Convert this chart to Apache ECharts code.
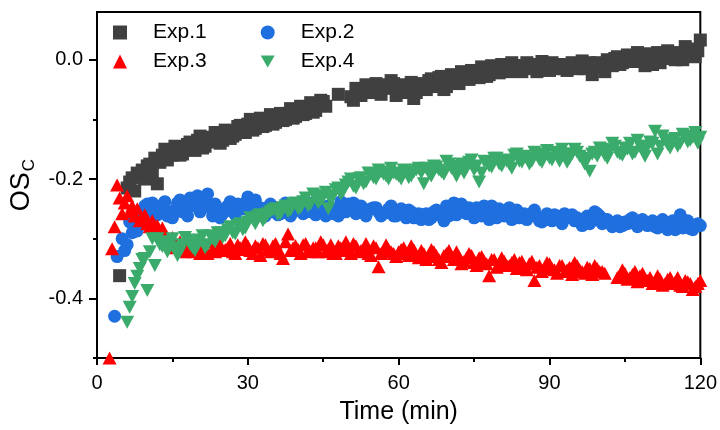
<!DOCTYPE html>
<html>
<head>
<meta charset="utf-8">
<script src="https://cdn.jsdelivr.net/npm/echarts@6/dist/echarts.min.js"></script>
<style>html,body{margin:0;padding:0;background:#fff}#c{width:720px;height:430px}</style>
</head>
<body>
<div id="c"></div>
<script>
const time = [2.5,3,3.5,4,4.5,5,5.5,6,6.5,7,7.5,8,8.5,9,9.5,10,10.5,11,11.5,12,12.5,13,13.5,14,14.5,15,
16,17,18,19,20,21,22,23,24,25,26,27,28,29,30,31,32,33,34,35,36,37,38,39,40,41,42,43,44,45,
46,47,48,49,50,51,52,53,54,55,56,57,58,59,60,61,62,63,64,65,66,67,68,69,70,71,72,73,74,75,
76,77,78,79,80,81,82,83,84,85,86,87,88,89,90,91,92,93,94,95,96,97,98,99,100,101,102,103,104,105,
106,107,108,109,110,111,112,113,114,115,116,117,118,119,120];

const time2 = [15.5,16.5,17.5,18.5,19.5,20.5,21.5,22.5,23.5,24.5,25.5,26.5,27.5,28.5,29.5,30.5,31.5,32.5,33.5,34.5,
35.5,36.5,37.5,38.5,39.5,40.5,41.5,42.5,43.5,44.5,45.5,46.5,47.5,48.5,49.5,50.5,51.5,52.5,53.5,54.5,
55.5,56.5,57.5,58.5,59.5,60.5,61.5,62.5,63.5,64.5,65.5,66.5,67.5,68.5,69.5,70.5,71.5,72.5,73.5,74.5,
75.5,76.5,77.5,78.5,79.5,80.5,81.5,82.5,83.5,84.5,85.5,86.5,87.5,88.5,89.5,90.5,91.5,92.5,93.5,94.5,
95.5,96.5,97.5,98.5,99.5,100.5,101.5,102.5,103.5,104.5,105.5,106.5,107.5,108.5,109.5,110.5,111.5,112.5,113.5,114.5,
115.5,116.5,117.5,118.5,119.5];

const exp1 = [null,null,null,null,-0.362,null,null,-0.215,-0.205,-0.198,-0.22,-0.19,-0.195,-0.185,-0.2,-0.178,-0.175,-0.19,-0.165,-0.208,-0.172,-0.16,-0.15,-0.168,-0.155,-0.16,
-0.15,-0.158,-0.142,-0.15,-0.135,-0.148,-0.13,-0.138,-0.125,-0.135,
-0.12,-0.128,-0.112,-0.12,-0.108,-0.118,-0.105,-0.112,-0.1,-0.108,
-0.095,-0.102,-0.09,-0.098,-0.085,-0.092,-0.08,-0.088,-0.075,-0.07,
null,null,-0.058,null,null,-0.068,-0.058,-0.05,-0.055,-0.045,
-0.052,-0.042,-0.048,-0.04,-0.05,-0.055,-0.045,-0.065,-0.04,-0.048,
-0.035,-0.045,-0.03,-0.05,-0.035,-0.028,-0.04,-0.022,-0.033,-0.02,
-0.03,-0.018,-0.025,-0.015,-0.022,-0.012,-0.02,-0.01,-0.018,-0.01,
-0.015,-0.008,-0.015,-0.01,-0.018,-0.012,-0.01,-0.015,-0.008,-0.012,
-0.01,-0.015,-0.005,-0.01,-0.008,-0.02,-0.005,0.002,-0.008,0.0,
0.005,-0.002,0.008,-0.01,0.005,0.0,-0.005,0.008,0.002,0.0,
0.01,0.022,0.012,0.005,0.033];

const exp1b = [-0.145,-0.16,-0.148,-0.138,-0.152,-0.128,-0.145,-0.135,-0.122,-0.14,
-0.118,-0.132,-0.125,-0.11,-0.122,-0.1,-0.115,-0.098,-0.11,-0.092,
-0.105,-0.09,-0.1,-0.082,-0.095,-0.078,-0.09,-0.072,-0.085,-0.068,
-0.078,null,null,null,null,-0.062,-0.048,-0.06,-0.042,-0.055,
-0.04,-0.058,-0.045,-0.035,-0.06,-0.042,-0.05,-0.038,-0.055,-0.042,
-0.05,-0.032,-0.042,-0.028,-0.045,-0.025,-0.035,-0.02,-0.032,-0.018,
-0.025,-0.012,-0.028,-0.01,-0.02,-0.008,-0.018,-0.005,-0.015,-0.02,
-0.005,-0.012,-0.02,-0.003,-0.012,-0.005,-0.015,-0.008,-0.018,-0.005,
-0.015,-0.002,-0.012,-0.025,-0.005,-0.012,0.0,-0.01,0.005,-0.005,
0.008,-0.003,0.012,0.0,0.01,-0.008,0.012,0.002,0.015,0.005,
0.012,0.0,0.018,0.008,0.015];

const exp2 = [null,null,-0.43,-0.33,null,-0.30,-0.32,-0.31,-0.272,-0.29,-0.265,-0.287,-0.255,-0.27,-0.245,-0.242,-0.255,-0.24,-0.25,-0.26,-0.245,-0.252,-0.238,-0.262,-0.255,-0.265,
-0.24,-0.255,-0.262,-0.245,-0.228,-0.24,-0.225,-0.262,-0.25,-0.258,
-0.245,-0.255,-0.242,-0.25,-0.23,-0.245,-0.252,-0.258,-0.248,-0.255,
-0.26,-0.25,-0.245,-0.255,-0.25,-0.258,-0.245,-0.24,-0.248,-0.255,
-0.245,-0.258,-0.262,-0.255,-0.242,-0.24,-0.245,-0.25,-0.252,-0.248,
-0.255,-0.258,-0.25,-0.262,-0.255,-0.26,-0.252,-0.265,-0.258,-0.26,
-0.268,-0.255,-0.26,-0.27,-0.262,-0.24,-0.245,-0.255,-0.248,-0.265,
-0.26,-0.245,-0.268,-0.255,-0.25,-0.262,-0.248,-0.255,-0.265,-0.258,
-0.262,-0.252,-0.27,-0.265,-0.268,-0.26,-0.265,-0.258,-0.262,-0.27,
-0.272,-0.268,-0.275,-0.255,-0.262,-0.268,-0.272,-0.275,-0.28,-0.272,
-0.268,-0.275,-0.27,-0.272,-0.275,-0.28,-0.272,-0.278,-0.275,-0.285,
-0.26,-0.278,-0.283,-0.28,-0.278];

const exp2b = [-0.252,-0.235,-0.248,-0.232,-0.238,-0.255,-0.235,-0.248,-0.242,-0.265,
-0.25,-0.238,-0.26,-0.245,-0.24,-0.255,-0.235,-0.248,-0.262,-0.242,
-0.248,-0.258,-0.24,-0.262,-0.245,-0.252,-0.238,-0.255,-0.26,-0.25,
-0.262,-0.248,-0.252,-0.238,-0.255,-0.248,-0.258,-0.245,-0.262,-0.25,
-0.248,-0.262,-0.255,-0.245,-0.262,-0.25,-0.265,-0.255,-0.262,-0.268,
-0.258,-0.265,-0.252,-0.262,-0.245,-0.25,-0.26,-0.242,-0.258,-0.252,
-0.248,-0.262,-0.258,-0.245,-0.265,-0.255,-0.26,-0.268,-0.252,-0.262,
-0.268,-0.258,-0.262,-0.272,-0.258,-0.27,-0.262,-0.275,-0.265,-0.26,
-0.265,-0.278,-0.262,-0.27,-0.258,-0.275,-0.268,-0.28,-0.27,-0.278,
-0.275,-0.265,-0.28,-0.268,-0.278,-0.27,-0.282,-0.268,-0.285,-0.27,
-0.275,-0.282,-0.27,-0.285,-0.275];

const exp3 = [-0.5,-0.317,-0.28,-0.21,-0.232,-0.258,-0.24,-0.228,-0.255,-0.245,-0.262,-0.25,-0.27,-0.267,-0.26,-0.275,-0.28,-0.27,-0.285,-0.278,-0.29,-0.282,-0.295,-0.3,-0.305,-0.298,
-0.31,-0.318,-0.305,-0.322,-0.315,-0.31,-0.325,-0.318,-0.312,-0.32,
-0.315,-0.322,-0.31,-0.318,-0.312,-0.325,-0.315,-0.308,-0.318,-0.312,
-0.32,-0.333,-0.292,-0.315,-0.318,-0.31,-0.32,-0.315,-0.322,-0.31,
-0.318,-0.325,-0.312,-0.32,-0.315,-0.308,-0.322,-0.318,-0.325,-0.312,
-0.347,-0.32,-0.318,-0.325,-0.322,-0.315,-0.328,-0.318,-0.332,-0.325,
-0.33,-0.322,-0.335,-0.328,-0.32,-0.335,-0.33,-0.338,-0.325,-0.34,
-0.332,-0.338,-0.362,-0.335,-0.342,-0.338,-0.345,-0.335,-0.34,-0.348,
-0.342,-0.37,-0.345,-0.35,-0.342,-0.352,-0.345,-0.355,-0.348,-0.34,
-0.352,-0.358,-0.35,-0.345,-0.355,-0.358,null,null,-0.362,-0.358,
-0.365,-0.355,-0.362,-0.37,-0.365,-0.372,-0.368,-0.375,-0.365,-0.372,
-0.378,-0.37,-0.375,-0.38,-0.37];

const exp3b = [-0.315,-0.305,-0.322,-0.312,-0.308,-0.325,-0.315,-0.305,-0.322,-0.31,
-0.318,-0.308,-0.325,-0.315,-0.305,-0.32,-0.312,-0.328,-0.31,-0.322,
-0.308,-0.325,-0.305,-0.32,-0.312,-0.325,-0.308,-0.322,-0.315,-0.305,
-0.322,-0.31,-0.325,-0.315,-0.305,-0.325,-0.312,-0.32,-0.308,-0.328,
-0.315,-0.325,-0.31,-0.322,-0.33,-0.318,-0.325,-0.312,-0.328,-0.32,
-0.335,-0.318,-0.328,-0.34,-0.325,-0.33,-0.322,-0.342,-0.332,-0.328,
-0.345,-0.33,-0.342,-0.335,-0.348,-0.332,-0.345,-0.34,-0.35,-0.338,
-0.352,-0.338,-0.348,-0.355,-0.34,-0.35,-0.358,-0.345,-0.352,-0.36,
-0.345,-0.355,-0.348,-0.36,-0.35,-0.355,null,null,-0.365,-0.352,
-0.368,-0.36,-0.372,-0.358,-0.37,-0.375,-0.362,-0.378,-0.368,-0.375,
-0.365,-0.38,-0.372,-0.385,-0.375];

const exp4 = [null,null,null,null,null,null,null,-0.44,-0.415,-0.397,-0.375,-0.363,-0.35,-0.335,-0.333,-0.387,-0.322,-0.3,-0.345,-0.3,-0.31,-0.313,-0.305,-0.322,-0.31,-0.3,
-0.328,-0.31,-0.302,-0.315,-0.305,-0.295,-0.31,-0.3,-0.29,-0.298,
-0.285,-0.29,-0.278,-0.285,-0.272,-0.268,-0.262,-0.27,-0.258,-0.252,
-0.26,-0.248,-0.255,-0.242,-0.25,-0.238,-0.245,-0.225,-0.24,-0.23,
-0.25,-0.228,-0.215,-0.22,-0.205,-0.212,-0.2,-0.208,-0.19,-0.198,
-0.185,-0.192,-0.2,-0.19,-0.195,-0.185,-0.198,-0.188,-0.182,-0.208,
-0.19,-0.178,-0.185,-0.192,-0.175,-0.185,-0.178,-0.19,-0.172,-0.185,
-0.205,-0.17,-0.178,-0.165,-0.175,-0.168,-0.175,-0.16,-0.17,-0.162,
-0.175,-0.155,-0.168,-0.16,-0.165,-0.155,-0.17,-0.158,-0.165,-0.15,
-0.162,-0.175,-0.187,-0.155,-0.148,-0.16,-0.152,-0.145,-0.158,-0.148,
-0.14,-0.155,-0.145,-0.162,-0.138,-0.12,-0.145,-0.135,-0.148,-0.132,
-0.14,-0.128,-0.135,-0.122,-0.13];

const exp4b = [-0.315,-0.322,-0.298,-0.31,-0.32,-0.302,-0.315,-0.295,-0.305,-0.29,
-0.295,-0.28,-0.292,-0.275,-0.282,-0.265,-0.275,-0.26,-0.265,-0.255,
-0.25,-0.258,-0.245,-0.252,-0.24,-0.248,-0.232,-0.242,-0.228,-0.235,
-0.222,-0.235,-0.218,-0.225,-0.21,-0.2,-0.215,-0.198,-0.205,-0.192,
-0.2,-0.188,-0.195,-0.182,-0.192,-0.2,-0.188,-0.195,-0.185,-0.19,
-0.182,-0.195,-0.18,-0.188,-0.17,-0.182,-0.195,-0.175,-0.182,-0.168,
-0.178,-0.19,-0.172,-0.18,-0.165,-0.178,-0.17,-0.182,-0.158,-0.172,
-0.165,-0.17,-0.158,-0.172,-0.152,-0.168,-0.16,-0.15,-0.172,-0.158,
-0.155,-0.165,-0.168,-0.158,-0.162,-0.15,-0.165,-0.14,-0.155,-0.16,
-0.15,-0.158,-0.135,-0.152,-0.145,-0.14,-0.158,-0.128,-0.142,-0.135,
-0.145,-0.125,-0.138,-0.13,-0.14];

const seriesNames = ['Exp.1','Exp.2','Exp.3','Exp.4'];
const xTicks = [0,30,60,90,120];
const yMajorTicks = [0,-0.2,-0.4];
const yMinorTicks = [-0.1,-0.3,-0.5];

function pairs(ts, vals){
  const out = [];
  for (let i = 0; i < ts.length; i++) if (vals[i] !== null && vals[i] !== undefined) out.push([ts[i], vals[i]]);
  return out;
}
function merged(a, b){
  return pairs(time, a).concat(pairs(time2, b)).sort((p, q) => p[0] - q[0]);
}

const FONT = 'Liberation Sans, Arial, sans-serif';
const downTri = 'path://M0,0 L14,0 L7,12 Z';

const chart = echarts.init(document.getElementById('c'), null, {renderer:'canvas'});
const legendText = {fontSize:21, color:'#000', fontFamily:FONT, rich:{t:{fontSize:21, color:'#000', fontFamily:FONT, padding:[0,0,0,21]}}};
chart.setOption({
  animation:false,
  backgroundColor:'#fff',
  grid:{left:97, right:17, top:12, bottom:71, show:true, borderColor:'#000', borderWidth:2, backgroundColor:'transparent'},
  legend:[
    {data:[seriesNames[0], seriesNames[1]], left:108, top:17, orient:'horizontal', itemGap:54, itemWidth:14, itemHeight:14,
     formatter:'{t|{name}}', textStyle:legendText},
    {data:[seriesNames[2], seriesNames[3]], left:108, top:46, orient:'horizontal', itemGap:54, itemWidth:14, itemHeight:14,
     formatter:'{t|{name}}', textStyle:legendText}
  ],
  xAxis:{type:'value', min:xTicks[0], max:xTicks[xTicks.length-1], interval:30,
    name:'Time (min)', nameLocation:'middle', nameGap:42,
    nameTextStyle:{fontSize:25, color:'#000', fontFamily:FONT},
    axisLine:{show:true, onZero:false, lineStyle:{color:'#000', width:2}},
    axisTick:{show:true, length:7, lineStyle:{color:'#000', width:2}},
    minorTick:{show:true, splitNumber:2, length:4, lineStyle:{color:'#000', width:2}},
    axisLabel:{fontSize:20, color:'#000', fontFamily:FONT, margin:15},
    splitLine:{show:false}, minorSplitLine:{show:false}},
  yAxis:[
    {type:'value', min:-0.5, max:0.08, interval:0.1,
     name:'{a|OS}{b|C}', nameLocation:'middle', nameGap:58,
     nameTextStyle:{color:'#000', fontFamily:FONT, rich:{
       a:{fontSize:27, color:'#000', fontFamily:FONT, lineHeight:32, verticalAlign:'middle'},
       b:{fontSize:17, color:'#000', fontFamily:FONT, lineHeight:16, verticalAlign:'bottom', padding:[12,0,0,1]}}},
     axisLine:{show:true, onZero:false, lineStyle:{color:'#000', width:2}},
     axisTick:{show:true, length:8, customValues:yMajorTicks, lineStyle:{color:'#000', width:2}},
     axisLabel:{fontSize:20, color:'#000', fontFamily:FONT, margin:14, customValues:yMajorTicks,
       formatter:function(v){return v.toFixed(1);}},
     splitLine:{show:false}},
    {type:'value', min:-0.5, max:0.08, interval:0.1, position:'left',
     axisLine:{show:false},
     axisTick:{show:true, length:4, customValues:yMinorTicks, lineStyle:{color:'#000', width:2}},
     axisLabel:{show:false}, splitLine:{show:false}}
  ],
  series:[
    {name:seriesNames[0], type:'scatter', data:merged(exp1, exp1b), symbol:'rect', symbolSize:13, itemStyle:{color:'#404040', opacity:1}},
    {name:seriesNames[1], type:'scatter', data:merged(exp2, exp2b), symbol:'circle', symbolSize:13, itemStyle:{color:'#1f6fdf', opacity:1}},
    {name:seriesNames[2], type:'scatter', data:merged(exp3, exp3b), symbol:'triangle', symbolSize:[14,13], itemStyle:{color:'#ff0000', opacity:1}},
    {name:seriesNames[3], type:'scatter', data:merged(exp4, exp4b), symbol:downTri, symbolSize:[14,13], itemStyle:{color:'#3aab6b', opacity:1}}
  ]
});
</script>
</body>
</html>
